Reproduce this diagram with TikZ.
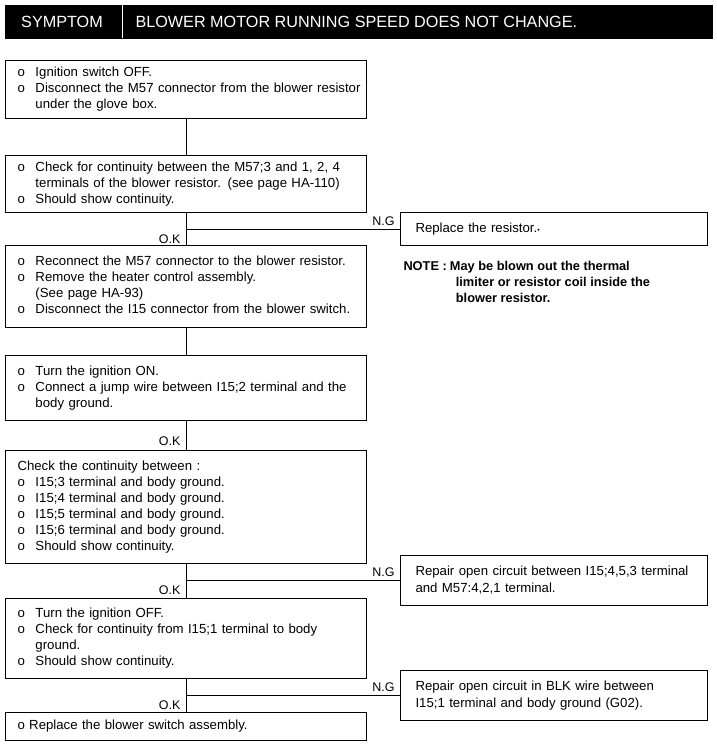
\documentclass[tikz,border=0pt]{standalone}
\usepackage{fontspec}
\setmainfont{Liberation Sans}
\usetikzlibrary{positioning,calc}
\tikzstyle{stepbox}=[draw,line width=1pt,anchor=north west,text width=349pt,inner xsep=6pt,inner ysep=0pt,align=left,font=\fontsize{13.2}{16}\selectfont]
\tikzstyle{fixbox}=[draw,line width=1pt,anchor=north west,text width=295pt,inner xsep=6pt,inner ysep=0pt,align=left,font=\fontsize{13.2}{16.5}\selectfont]
\tikzstyle{tag}=[inner sep=1pt,font=\fontsize{12.5}{14}\selectfont]
\newcommand{\steplist}[1]{\begin{tabular}{@{\hspace{6pt}}p{18pt}@{}l@{}}#1\end{tabular}}

\begin{document}
\begin{tikzpicture}[x=1pt,y=-1pt,line width=1pt]
\useasboundingbox (0,0) rectangle (717,745);
% header
\node [draw,fill=black,anchor=north west,minimum width=707pt,minimum height=33pt,inner sep=0pt] (hdr) at (5,5) {};
\draw [white] (122,5) -- (122,38);
\node [text=white,font=\fontsize{16.2}{18}\selectfont] (sym) at (62,21.5) {SYMPTOM};
\node [text=white,anchor=west,inner sep=0pt,font=\fontsize{16.2}{18}\selectfont] (title) at (135,21.5) {BLOWER MOTOR RUNNING SPEED DOES NOT CHANGE.};
% main steps
\node [stepbox,minimum height=58pt] (s1) at (5,60) {\steplist{
o & Ignition switch OFF.\\
o & Disconnect the M57 connector from the blower resistor\\
  & under the glove box.}};
\node [stepbox,minimum height=57pt] (s2) at (5,155) {\steplist{
o & Check for continuity between the M57;3 and 1, 2, 4\\
  & terminals of the blower resistor. (see page HA-110)\\
o & Should show continuity.}};
\node [stepbox,minimum height=82pt] (s3) at (5,245) {\steplist{
o & Reconnect the M57 connector to the blower resistor.\\
o & Remove the heater control assembly.\\
  & (See page HA-93)\\
o & Disconnect the I15 connector from the blower switch.}};
\node [stepbox,minimum height=65pt] (s4) at (5,355) {\steplist{
o & Turn the ignition ON.\\
o & Connect a jump wire between I15;2 terminal and the\\
  & body ground.}};
\node [stepbox,minimum height=113pt] (s5) at (5,450) {\steplist{
\multicolumn{2}{@{\hspace{6pt}}l@{}}{Check the continuity between :}\\
o & I15;3 terminal and body ground.\\
o & I15;4 terminal and body ground.\\
o & I15;5 terminal and body ground.\\
o & I15;6 terminal and body ground.\\
o & Should show continuity.}};
\node [stepbox,minimum height=80pt] (s6) at (5,598) {\steplist{
o & Turn the ignition OFF.\\
o & Check for continuity from I15;1 terminal to body\\
  & ground.\\
o & Should show continuity.}};
\node [stepbox,minimum height=28pt] (s7) at (5,712) {\hspace{6pt}o Replace the blower switch assembly.};
% repair boxes
\node [fixbox,minimum height=33pt] (r1) at (400,212) {\hspace{9pt}Replace the resistor.{\scriptsize\textbullet}};
\node [fixbox,minimum height=50pt] (r2) at (400,555) {\hspace{9pt}\begin{tabular}{@{}l@{}}
Repair open circuit between I15;4,5,3 terminal\\
and M57:4,2,1 terminal.\end{tabular}};
\node [fixbox,minimum height=50pt] (r3) at (400,670) {\hspace{9pt}\begin{tabular}{@{}l@{}}
Repair open circuit in BLK wire between\\
I15;1 terminal and body ground (G02).\end{tabular}};
\node [anchor=north west,inner sep=0pt,align=left,font=\bfseries\fontsize{12.8}{16}\selectfont] (note) at (403,259) {\begin{tabular}{@{}l@{\hspace{3pt}}l@{}}
NOTE : & May be blown out the thermal\\
       & \hspace{6pt}limiter or resistor coil inside the\\
       & \hspace{6pt}blower resistor.\end{tabular}};
% connectors
\draw (s1.south) -- (s2.north);
\draw (s2.south) -- (s3.north);
\draw (s3.south) -- (s4.north);
\draw (s4.south) -- (s5.north);
\draw (s5.south) -- (s6.north);
\draw (s6.south) -- (s7.north);
\draw (r1.west) -- (r1.west -| s2.south);
\draw (r2.west) -- (r2.west -| s5.south);
\draw (r3.west) -- (r3.west -| s6.south);
% labels
\foreach \r in {r1,r2,r3}
  \node [tag,anchor=south east] at ($(\r.west)+(-4,-2)$) {N.G};
\node [tag,anchor=east] (ok1) at ($(r1.west -| s2.south)+(-4,10)$) {O.K};
\node [tag,anchor=east] (ok2) at ($(s4.south)+(-4,20)$) {O.K};
\node [tag,anchor=east] (ok3) at ($(r2.west -| s5.south)+(-4,10)$) {O.K};
\node [tag,anchor=east] (ok4) at ($(r3.west -| s6.south)+(-4,10)$) {O.K};
\end{tikzpicture}
\end{document}
